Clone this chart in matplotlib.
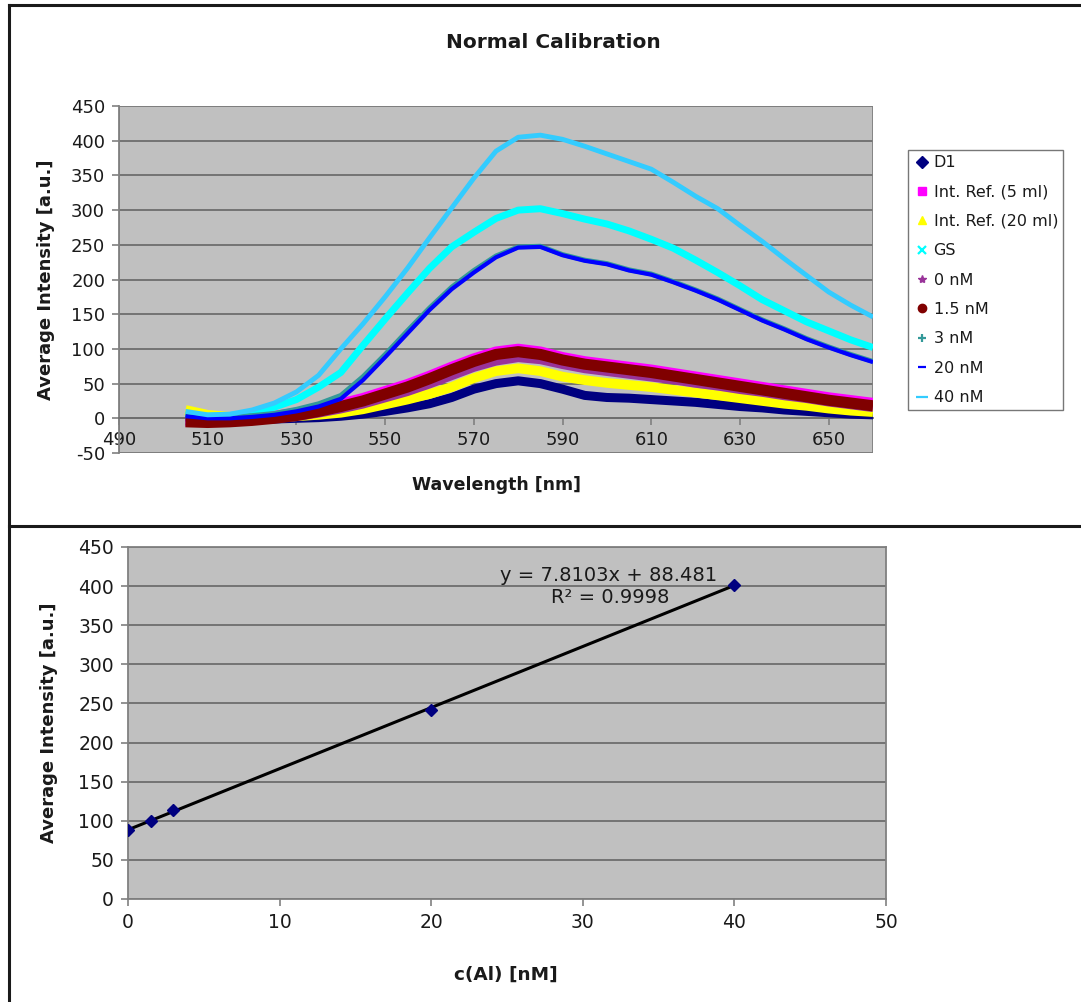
import numpy as np
import matplotlib
matplotlib.use("Agg")
import matplotlib.pyplot as plt
from matplotlib.lines import Line2D
from matplotlib.patches import Rectangle

plt.rcParams['font.family'] = ['DejaVu Sans']
plt.rcParams['axes.unicode_minus'] = False

# ---- emission spectra (wavelength in nm, intensity in a.u.) ----
wavelength = [505, 510, 515, 520, 525, 530, 535, 540, 545, 550, 555, 560, 565, 570, 575, 580,
              585, 590, 595, 600, 605, 610, 615, 620, 625, 630, 635, 640, 645, 650, 655, 660]

d1 = [2, -1, -2, -2, -1, 0, 1, 3, 6, 10, 15, 21, 30, 42, 50, 54,
      50, 42, 33, 30, 29, 27, 25, 23, 20, 17, 15, 12, 10, 8, 6, 5]
int_ref_5 = [-3, -4, -3, -1, 2, 7, 13, 20, 28, 38, 48, 60, 73, 85, 95, 99,
             95, 87, 81, 77, 73, 69, 64, 59, 54, 49, 44, 39, 34, 29, 25, 21]
int_ref_20 = [12, 5, 2, 1, 2, 3, 5, 8, 13, 20, 27, 35, 45, 58, 68, 72,
              68, 60, 55, 51, 48, 45, 41, 37, 33, 29, 25, 21, 18, 14, 11, 9]
gs = [6, 3, 4, 8, 16, 27, 45, 66, 105, 143, 180, 216, 247, 268, 288, 300,
      302, 295, 287, 280, 270, 258, 245, 228, 210, 191, 171, 155, 139, 126, 113, 102]
nm_0 = [-4, -5, -4, -3, -1, 2, 7, 13, 20, 29, 38, 49, 61, 73, 82, 87,
        84, 77, 71, 67, 63, 59, 55, 50, 46, 41, 37, 32, 28, 23, 19, 15]
nm_1_5 = [-5, -6, -5, -3, 0, 4, 10, 17, 25, 35, 45, 57, 70, 82, 92, 96,
          92, 84, 78, 74, 70, 66, 61, 56, 51, 46, 41, 36, 31, 26, 22, 18]
nm_3 = [5, 2, 2, 4, 7, 13, 21, 33, 60, 92, 126, 159, 189, 213, 234, 247,
        248, 236, 228, 223, 214, 208, 197, 185, 172, 157, 142, 129, 115, 103, 92, 82]
nm_20 = [3, 0, 0, 2, 5, 10, 17, 28, 55, 88, 122, 156, 186, 210, 232, 246,
         247, 235, 227, 222, 213, 207, 196, 184, 171, 156, 141, 128, 114, 102, 91, 81]
nm_40 = [10, 5, 6, 12, 22, 38, 62, 100, 136, 175, 216, 260, 303, 346, 385, 405,
         408, 402, 392, 381, 370, 359, 340, 320, 302, 278, 255, 230, 206, 182, 163, 146]

series_names = ["D1", "Int. Ref. (5 ml)", "Int. Ref. (20 ml)", "GS", "0 nM",
                "1.5 nM", "3 nM", "20 nM", "40 nM"]
series_values = [d1, int_ref_5, int_ref_20, gs, nm_0, nm_1_5, nm_3, nm_20, nm_40]
series_colors = ["#000080", "#FF00FF", "#FFFF00", "#00FFFF", "#993399",
                 "#800000", "#339999", "#0000FF", "#33CCFF"]
series_markers = ["D", "s", "^", "x", "*", "o", "+", "_", "_"]
series_widths = [6.5, 8.5, 7.0, 5.0, 6.0, 8.0, 3.5, 3.0, 3.5]

# ---- calibration points ----
conc = [0, 1.5, 3, 20, 40]
mean_intensity = [88, 100, 114, 242, 402]
slope, intercept, r_squared = 7.8103, 88.481, 0.9998

plot_bg = "#C0C0C0"
grid_col = "#6E6E6E"
frame_col = "#808080"
text_col = "#1A1A1A"
tick_fs = 13

fig = plt.figure(figsize=(10.81, 10.02), dpi=100)

# ---------- upper chart: spectra ----------
ax1 = fig.add_axes([0.1101, 0.5479, 0.6975, 0.3463])
ax1.set_facecolor(plot_bg)
for vals, col, lw in zip(series_values, series_colors, series_widths):
    ax1.plot(wavelength, vals, color=col, lw=lw, solid_capstyle='butt',
             solid_joinstyle='round', zorder=3)
ax1.set_xlim(490, 660)
ax1.set_ylim(-50, 450)
ax1.set_xticks(np.arange(490, 651, 20))
ax1.set_yticks(np.arange(-50, 451, 50))
ax1.yaxis.grid(True, color=grid_col, lw=1.3, zorder=1)
ax1.set_axisbelow(True)
for s in ['top', 'right']:
    ax1.spines[s].set_visible(False)
ax1.spines['bottom'].set_position(('data', 0))
ax1.spines['bottom'].set_color(grid_col)
ax1.spines['bottom'].set_linewidth(1.3)
ax1.spines['left'].set_color(frame_col)
ax1.spines['left'].set_linewidth(1.3)
ax1.add_patch(Rectangle((0, 0), 1, 1, transform=ax1.transAxes, fill=False,
                        edgecolor=frame_col, lw=1.3, zorder=2))
ax1.tick_params(axis='both', colors=frame_col, labelcolor=text_col, labelsize=tick_fs,
                length=5, width=1.2)
ax1.tick_params(axis='x', pad=4)
ax1.tick_params(axis='y', pad=5)
ax1.set_xlabel("Wavelength [nm]", fontsize=12.5, fontweight='bold', color=text_col)
ax1.xaxis.set_label_coords(0.5, -0.065)
ax1.set_ylabel("Average Intensity [a.u.]", fontsize=13, fontweight='bold', color=text_col)
ax1.yaxis.set_label_coords(-0.085, 0.5)

fig.text(0.512, 0.958, "Normal Calibration", ha='center', va='center', fontsize=14.5,
         fontweight='bold', color=text_col)

handles = [Line2D([], [], ls='none', marker=m, color=c, markersize=6,
                  markeredgewidth=1.6 if m in ('x', '+', '_') else 1.0)
           for m, c in zip(series_markers, series_colors)]
handles[-1].set_markersize(9)
leg = fig.legend(handles, series_names, loc='upper left',
                 bbox_to_anchor=(0.840, 0.850), frameon=True, fontsize=11.5,
                 handlelength=1.2, handletextpad=0.1, labelspacing=0.9,
                 borderpad=0.3, fancybox=False, borderaxespad=0)
leg.get_frame().set_edgecolor("#555555")
leg.get_frame().set_linewidth(1.0)
for t in leg.get_texts():
    t.set_color(text_col)

# ---------- lower chart: calibration ----------
ax2 = fig.add_axes([0.1184, 0.1028, 0.7012, 0.3513])
ax2.set_facecolor(plot_bg)
xfit = np.array([conc[0], conc[-1]])
ax2.plot(xfit, slope * xfit + intercept, color='black', lw=2.2, zorder=3)
ax2.plot(conc, mean_intensity, ls='none', marker='D', color='#000080', markersize=6, zorder=4)
ax2.set_xlim(0, 50)
ax2.set_ylim(0, 450)
ax2.set_xticks(np.arange(0, 51, 10))
ax2.set_yticks(np.arange(0, 451, 50))
ax2.yaxis.grid(True, color=grid_col, lw=1.3, zorder=1)
ax2.set_axisbelow(True)
for s in ['top', 'right', 'bottom', 'left']:
    ax2.spines[s].set_color(frame_col)
    ax2.spines[s].set_linewidth(1.3)
ax2.tick_params(axis='both', colors=frame_col, labelcolor=text_col, labelsize=13.5,
                length=5, width=1.2)
ax2.tick_params(axis='x', pad=5)
ax2.tick_params(axis='y', pad=5)
ax2.set_xlabel("c(Al) [nM]", fontsize=13.3, fontweight='bold', color=text_col)
ax2.xaxis.set_label_coords(0.498, -0.19)
ax2.set_ylabel("Average Intensity [a.u.]", fontsize=13, fontweight='bold', color=text_col)
ax2.yaxis.set_label_coords(-0.092, 0.5)
ax2.text(31.7, 414, f"y = {slope}x + {intercept}", ha='center', va='center',
         fontsize=14, color=text_col, zorder=5)
ax2.text(31.8, 385, f"R\u00b2 = {r_squared}", ha='center', va='center',
         fontsize=14, color=text_col, zorder=5)

# ---------- chart frames ----------
frame_kw = dict(color='#1A1A1A', lw=2.2, transform=fig.transFigure)
fig.add_artist(Line2D([0.0083, 1.0], [0.995, 0.995], **frame_kw))
fig.add_artist(Line2D([0.0083, 0.0083], [0.0, 0.995], **frame_kw))
fig.add_artist(Line2D([0.0083, 1.0], [0.475, 0.475], **frame_kw))

fig.savefig("out.png", dpi=100, facecolor='white')
